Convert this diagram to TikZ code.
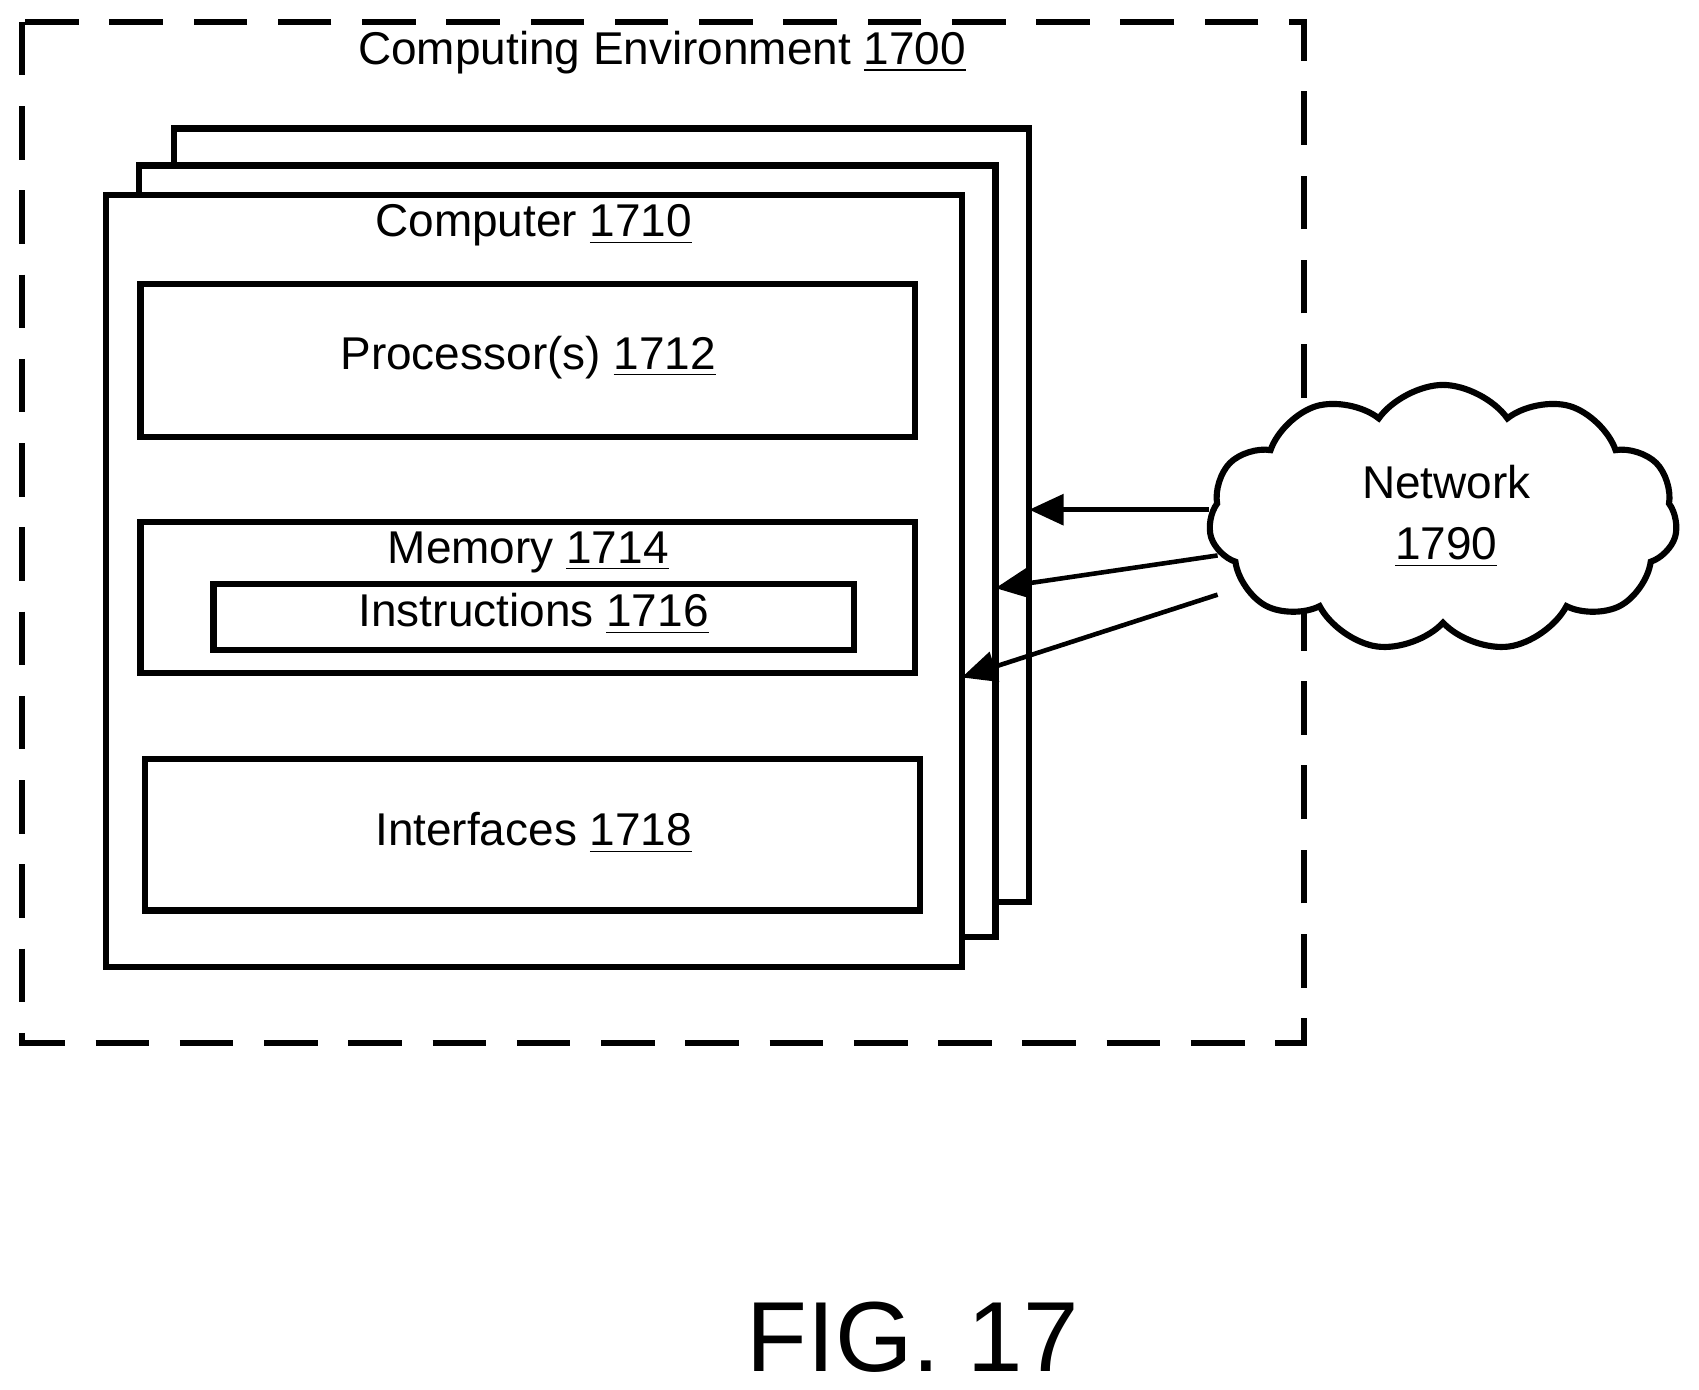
\documentclass[tikz,border=0pt]{standalone}
\usepackage{fontspec}
\setmainfont{Liberation Sans}
\usetikzlibrary{shapes.symbols,arrows.meta}
\begin{document}
\begin{tikzpicture}[x=0.01cm,y=-0.01cm,
  box/.style={draw,line width=1.6pt,fill=white},
  lbl/.style={font=\fontsize{12}{14}\selectfont,inner sep=0},
  arr/.style={line width=1.2pt,-{Triangle[length=9pt,width=8pt]}}]
\useasboundingbox (0,0) rectangle (1560,1276);
\draw[line width=1.6pt,dash pattern=on 14pt off 8pt] (20,20) rectangle (1197,958);
\node[lbl] (env) at (608,48) {Computing Environment \underline{1700}};
\draw[box] (160,118) rectangle (945,828);
\draw[box] (128,152) rectangle (914,860);
\draw[box] (97,179) rectangle (883,888);
\coordinate (back) at (945,468);
\coordinate (mid) at (914,540);
\coordinate (front) at (883,622);
\node[lbl] (comp) at (490,207) {Computer \underline{1710}};
\draw[box] (129,261) rectangle (840,401);
\node[lbl] (proc) at (485,328) {Processor(s) \underline{1712}};
\draw[box] (129,479) rectangle (840,618);
\node[lbl] (mem) at (485,507) {Memory \underline{1714}};
\draw[box] (196,536) rectangle (784,597);
\node[lbl] (ins) at (490,564) {Instructions \underline{1716}};
\draw[box] (133,697) rectangle (845,836);
\node[lbl] (intf) at (490,765) {Interfaces \underline{1718}};
\node[cloud,draw,line width=1.6pt,fill=white,cloud puffs=11,cloud puff arc=110,minimum width=4.3cm,minimum height=2.45cm,aspect=1.8] (net) at (1325,476) {};
\node[lbl,align=center] at (1328,474) {Network\\[2pt]\underline{1790}};
\coordinate (c1) at (1110,468);
\coordinate (c2) at (1118,510);
\coordinate (c3) at (1118,546);
\draw[arr] (c1) -- (back);
\draw[arr] (c2) -- (mid);
\draw[arr] (c3) -- (front);
\node[font=\fontsize{26}{28}\selectfont,inner sep=0] (fig) at (838,1228) {FIG. 17};
\end{tikzpicture}
\end{document}
